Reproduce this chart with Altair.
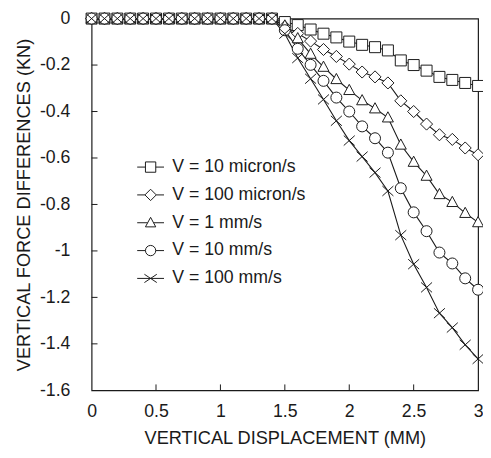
import altair as alt
import pandas as pd

# ---- data ----
x_vals = [0.0, 0.1, 0.2, 0.3, 0.4, 0.5, 0.6, 0.7, 0.8, 0.9, 1.0, 1.1, 1.2, 1.3, 1.4,
          1.5, 1.6, 1.7, 1.8, 1.9, 2.0, 2.1, 2.2, 2.3, 2.4, 2.5, 2.6, 2.7, 2.8, 2.9, 3.0]

series_names = ["V = 10 micron/s", "V = 100 micron/s", "V = 1 mm/s", "V = 10 mm/s", "V = 100 mm/s"]

v_10_micron = [0, 0, 0, 0, 0, 0, 0, 0, 0, 0, 0, 0, 0, 0, 0,
               -0.015, -0.028, -0.047, -0.065, -0.081, -0.099, -0.113, -0.123, -0.137,
               -0.180, -0.200, -0.224, -0.251, -0.264, -0.277, -0.290]
v_100_micron = [0, 0, 0, 0, 0, 0, 0, 0, 0, 0, 0, 0, 0, 0, 0,
                -0.035, -0.064, -0.097, -0.133, -0.163, -0.196, -0.230, -0.251, -0.277,
                -0.354, -0.400, -0.454, -0.500, -0.520, -0.557, -0.586]
v_1_mm = [0, 0, 0, 0, 0, 0, 0, 0, 0, 0, 0, 0, 0, 0, 0,
          -0.030, -0.085, -0.152, -0.208, -0.261, -0.308, -0.352, -0.387, -0.426,
          -0.543, -0.617, -0.677, -0.756, -0.790, -0.837, -0.877]
v_10_mm = [0, 0, 0, 0, 0, 0, 0, 0, 0, 0, 0, 0, 0, 0, 0,
           -0.050, -0.130, -0.199, -0.268, -0.340, -0.400, -0.464, -0.515, -0.577,
           -0.730, -0.834, -0.915, -1.007, -1.054, -1.118, -1.167]
v_100_mm = [0, 0, 0, 0, 0, 0, 0, 0, 0, 0, 0, 0, 0, 0, 0,
            -0.065, -0.170, -0.259, -0.348, -0.440, -0.525, -0.594, -0.663, -0.742,
            -0.932, -1.057, -1.157, -1.268, -1.330, -1.404, -1.465]

x_ticks = [0, 0.5, 1, 1.5, 2, 2.5, 3]
y_ticks = [0, -0.2, -0.4, -0.6, -0.8, -1, -1.2, -1.4, -1.6]
x_inner_ticks = [0.5, 1, 1.5, 2, 2.5]
y_inner_ticks = [-0.2, -0.4, -0.6, -0.8, -1, -1.2, -1.4]

# ---- build table ----
all_series = [v_10_micron, v_100_micron, v_1_mm, v_10_mm, v_100_mm]
rows = []
for k, (name, ys) in enumerate(zip(series_names, all_series)):
    for xv, yv in zip(x_vals, ys):
        rows.append({"x": xv, "y": yv, "series": name, "order": k})
df = pd.DataFrame(rows)

W, H = 393, 378
FONT = "Liberation Sans"
INK = "#1a1a1a"

marker_paths = [
    "M-1,-1L1,-1L1,1L-1,1Z",
    "M0,-1.1L1.1,0L0,1.1L-1.1,0Z",
    "M0,-1.05L1,0.8L-1,0.8Z",
    "M1,0A1,1,0,1,1,-1,0A1,1,0,1,1,1,0Z",
    "M-1,-0.9L1,0.9M-1,0.9L1,-0.9",
]
legend_paths = [
    "M-2.6,0H-1M1,0H2.6M-1,-1L1,-1L1,1L-1,1Z",
    "M-2.6,0H-1.1M1.1,0H2.6M0,-1.1L1.1,0L0,1.1L-1.1,0Z",
    "M-2.6,0H-0.6M0.6,0H2.6M0,-1.05L1,0.8L-1,0.8Z",
    "M-2.6,0H-1M1,0H2.6M1,0A1,1,0,1,1,-1,0A1,1,0,1,1,1,0Z",
    "M-2.6,0H2.6M-1.2,-0.8L1.2,0.8M-1.2,0.8L1.2,-0.8",
]

x_enc = alt.X("x:Q", scale=alt.Scale(domain=[0, 3], nice=False),
              axis=alt.Axis(values=x_ticks, title="VERTICAL DISPLACEMENT (MM)",
                            labelExpr="'' + datum.value", ticks=False, tickSize=0,
                            domain=False, grid=False, labelPadding=13, titlePadding=8,
                            labelFlush=False))
y_enc = alt.Y("y:Q", scale=alt.Scale(domain=[-1.6, 0], nice=False),
              axis=alt.Axis(values=y_ticks, title="VERTICAL FORCE DIFFERENCES (KN)",
                            labelExpr="'' + datum.value", ticks=False, tickSize=0,
                            domain=False, grid=False, labelPadding=22, titlePadding=6,
                            labelFlush=False))

lines = alt.Chart(df).mark_line(color=INK, strokeWidth=1.1).encode(
    x=x_enc, y=y_enc, detail="series:N", order="x:Q"
)

points = alt.Chart(df).mark_point(
    filled=True, fill="white", stroke=INK, strokeWidth=1, size=125, opacity=1
).encode(
    x="x:Q", y="y:Q",
    shape=alt.Shape("series:N", scale=alt.Scale(domain=series_names, range=marker_paths),
                    legend=None),
    order="order:Q",
)

legend_layer = alt.Chart(df).transform_filter("datum.x < -10").mark_point(
    filled=False, color=INK, strokeWidth=1, size=110, opacity=1
).encode(
    x="x:Q", y="y:Q",
    shape=alt.Shape("series:N", scale=alt.Scale(domain=series_names, range=legend_paths),
                    legend=alt.Legend(title=None, orient="none", legendX=51, legendY=142,
                                      padding=0, rowPadding=10.3, labelOffset=13,
                                      symbolStrokeColor=INK,
                                      symbolStrokeWidth=1, symbolOpacity=1, symbolSize=110,
                                      labelFont=FONT, labelFontSize=18, labelColor=INK,
                                      labelLimit=300)),
)

xt = pd.DataFrame({"v": x_inner_ticks})
yt = pd.DataFrame({"v": y_inner_ticks})
x_tick_marks = alt.Chart(xt).mark_rule(color=INK, strokeWidth=1).encode(
    x="v:Q", y=alt.value(H), y2=alt.value(H - 6)
)
y_tick_marks = alt.Chart(yt).mark_rule(color=INK, strokeWidth=1).encode(
    y="v:Q", x=alt.value(0), x2=alt.value(6)
)

chart = alt.layer(
    lines, x_tick_marks, y_tick_marks, points, legend_layer
).resolve_scale(shape="independent").properties(
    width=W, height=H,
    autosize=alt.AutoSizeParams(type="none"),
    padding={"left": 85, "top": 7, "right": 5, "bottom": 62},
).configure_view(
    stroke=INK, strokeWidth=1.2
).configure_axis(
    labelFont=FONT, labelFontSize=18, labelColor=INK,
    titleFont=FONT, titleFontSize=18.5, titleColor=INK, titleFontWeight="normal",
)

chart.save("out.html", embed_options={"renderer": "svg", "actions": False})
